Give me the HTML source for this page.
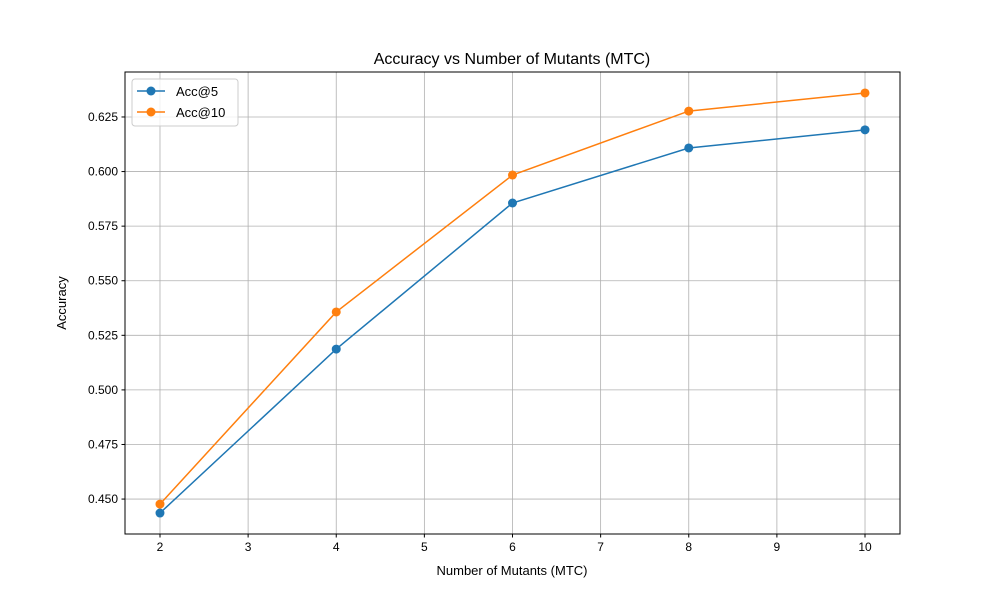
<!DOCTYPE html>
<html><head><meta charset="utf-8"><style>
body{margin:0;background:#fff;}
svg text{font-family:"Liberation Sans","DejaVu Sans",sans-serif;fill:#000;}
</style></head><body>
<svg id="chart" width="1000" height="600" xmlns="http://www.w3.org/2000/svg">
<rect width="1000" height="600" fill="#fff"/>
<text x="512" y="64" font-size="16" text-anchor="middle">Accuracy vs Number of Mutants (MTC)</text>
<text x="512" y="575" font-size="13" text-anchor="middle">Number of Mutants (MTC)</text>
<text x="0" y="0" font-size="13" text-anchor="middle" transform="translate(66,303) rotate(-90)">Accuracy</text>
<g id="grid"></g><g id="ticks"></g><g id="series"></g>
<rect x="125" y="72" width="775" height="462" fill="none" stroke="#000" stroke-width="1"/>
<g>
<rect x="132" y="79" width="106" height="47" rx="3" fill="#fff" fill-opacity="0.8" stroke="#ccc"/>
<g>
<line x1="137" y1="91" x2="165" y2="91" stroke="#1f77b4" stroke-width="1.5"/><circle cx="151" cy="91" r="4.5" fill="#1f77b4"/>
<text x="176" y="96" font-size="13">Acc@5</text></g>
<g>
<line x1="137" y1="112" x2="165" y2="112" stroke="#ff7f0e" stroke-width="1.5"/><circle cx="151" cy="112" r="4.5" fill="#ff7f0e"/>
<text x="176" y="117" font-size="13">Acc@10</text></g>
</g>
</svg>
<script>
const categories=[2,4,6,8,10];
const acc5=[0.4436,0.5187,0.5856,0.6108,0.6191];
const acc10=[0.4477,0.5357,0.5984,0.6277,0.6360];
const xTicks=[2,3,4,5,6,7,8,9,10];
const yTicks=[0.450,0.475,0.500,0.525,0.550,0.575,0.600,0.625];
const NS="http://www.w3.org/2000/svg";
const X0=125,X1=900,Y0=534,Y1=72,xmin=1.603,xmax=10.397,ymin=0.4340,ymax=0.6456;
function xs(v){return X0+(v-xmin)/(xmax-xmin)*(X1-X0);}
function ys(v){return Y0-(v-ymin)/(ymax-ymin)*(Y0-Y1);}
function mk(t,a,p){const e=document.createElementNS(NS,t);for(const k in a)e.setAttribute(k,a[k]);p.appendChild(e);return e;}
const grid=document.getElementById('grid'),ticks=document.getElementById('ticks'),ser=document.getElementById('series');
xTicks.forEach(v=>{const x=xs(v);
 const g=mk('line',{x1:x,x2:x,y1:Y1,y2:Y0,stroke:'#b0b0b0','stroke-width':0.8},grid);
 
 
 mk('line',{x1:x,x2:x,y1:Y0,y2:Y0+3.5,stroke:'#000'},ticks);
 const t=mk('text',{x:x,y:Y0+17,'font-size':12,'text-anchor':'middle'},ticks);t.textContent=v;
 
 });
yTicks.forEach(v=>{const y=ys(v);
 const g=mk('line',{x1:X0,x2:X1,y1:y,y2:y,stroke:'#b0b0b0','stroke-width':0.8},grid);
 
 
 mk('line',{x1:X0-3.5,x2:X0,y1:y,y2:y,stroke:'#000'},ticks);
 const t=mk('text',{x:X0-7,y:y+4,'font-size':12,'text-anchor':'end'},ticks);t.textContent=v.toFixed(3);
 
 });
function draw(vals,color,name){
 const pl=mk('polyline',{points:categories.map((c,i)=>xs(c)+','+ys(vals[i])).join(' '),fill:'none',stroke:color,'stroke-width':1.5},ser);
 
 
 categories.forEach((c,i)=>{const p=mk('circle',{cx:xs(c),cy:ys(vals[i]),r:4.5,fill:color},ser);
  
  });
}
draw(acc5,'#1f77b4','acc5');
draw(acc10,'#ff7f0e','acc10');
</script>
</body></html>
